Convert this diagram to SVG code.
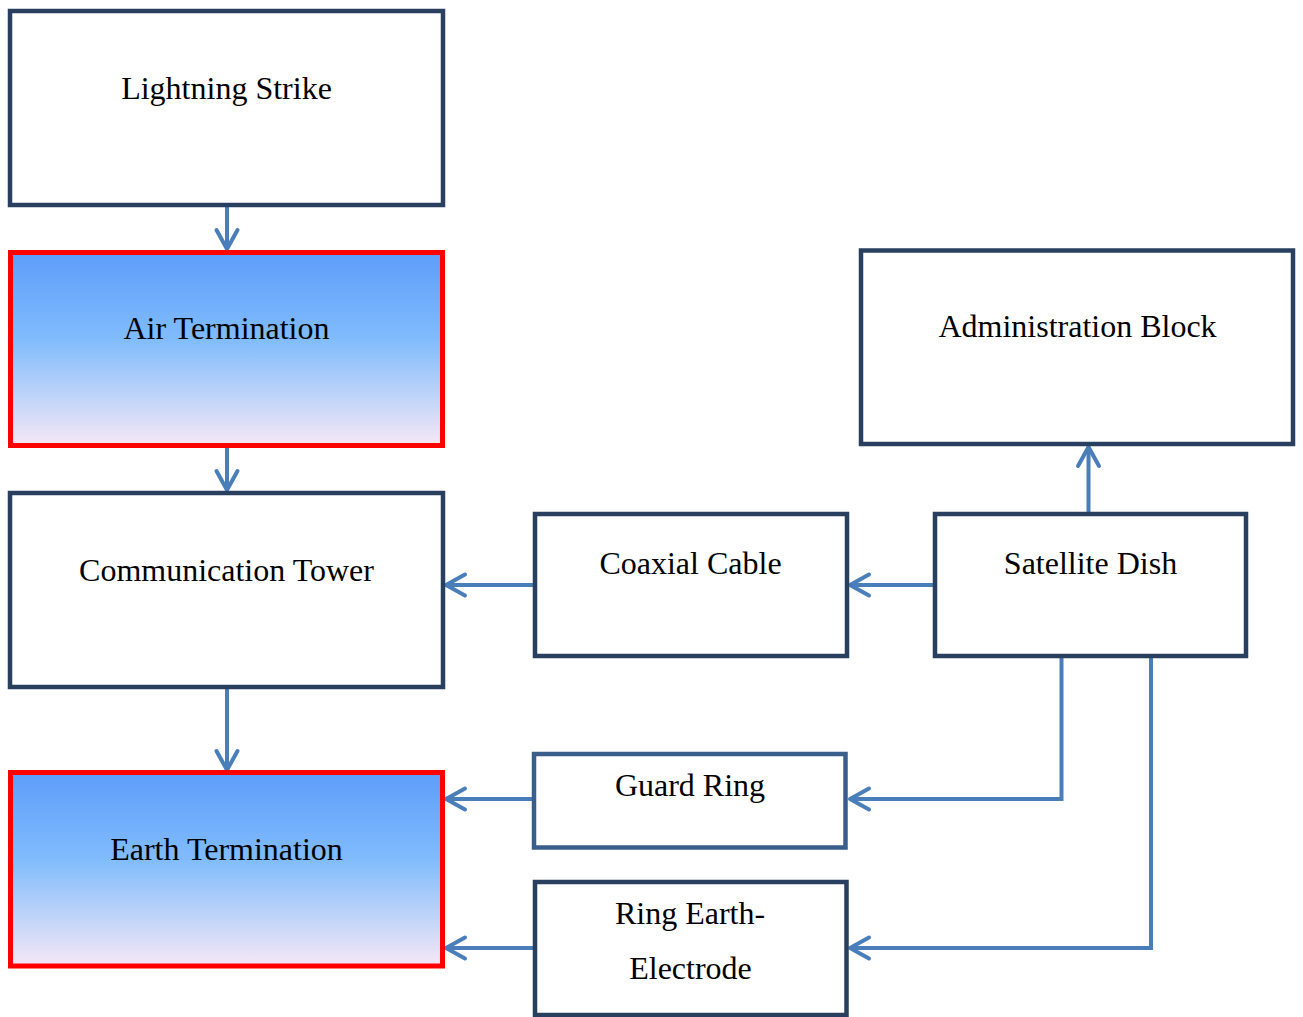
<svg xmlns="http://www.w3.org/2000/svg" width="1303" height="1017" viewBox="0 0 1303 1017">
<style>
.box{fill:#ffffff;stroke:#283f60;stroke-width:4.5}
.hot{fill:url(#grad);stroke:#ff0000;stroke-width:5}
.lbl{font-family:"Liberation Serif","Times New Roman",serif;font-size:32px;fill:#000000;text-anchor:middle}
.con{fill:none;stroke:#4a7ebb;stroke-width:4}
</style>
<defs>
<linearGradient id="grad" x1="0" y1="0" x2="0" y2="1">
<stop offset="0" stop-color="#5e9dfb"/>
<stop offset="0.45" stop-color="#80bcfc"/>
<stop offset="1" stop-color="#f6e8f6"/>
</linearGradient>
<marker id="ah" markerUnits="userSpaceOnUse" markerWidth="30" markerHeight="30" refX="0" refY="0" orient="auto" overflow="visible">
<path d="M-19,-10.5 L0,0 L-19,10.5" fill="none" stroke="#4a7ebb" stroke-width="4" stroke-linecap="round" stroke-linejoin="round"/>
</marker>
</defs>
<rect width="1303" height="1017" fill="#ffffff"/>
<g id="connectors">
<path class="con" d="M227,207 L227,249" marker-end="url(#ah)"/>
<path class="con" d="M227,448 L227,490" marker-end="url(#ah)"/>
<path class="con" d="M227,682 L227,770" marker-end="url(#ah)"/>
<path class="con" d="M535,585 L446,585" marker-end="url(#ah)"/>
<path class="con" d="M935,585 L850,585" marker-end="url(#ah)"/>
<path class="con" d="M1088.5,516 L1088.5,447" marker-end="url(#ah)"/>
<path class="con" d="M1061.5,656 L1061.5,799 L850,799" marker-end="url(#ah)"/>
<path class="con" d="M1151,656 L1151,948 L850,948" marker-end="url(#ah)"/>
<path class="con" d="M534,799 L446,799" marker-end="url(#ah)"/>
<path class="con" d="M535,948 L446,948" marker-end="url(#ah)"/>
</g>
<g id="lightning-strike">
<rect class="box" x="10" y="11" width="433" height="194"/>
<text class="lbl" x="226.5" y="99">Lightning Strike</text>
</g>
<g id="air-termination">
<rect class="hot" x="10.5" y="252.5" width="432" height="193"/>
<text class="lbl" x="226.5" y="339">Air Termination</text>
</g>
<g id="communication-tower">
<rect class="box" x="10" y="493" width="433" height="194"/>
<text class="lbl" x="226.5" y="581">Communication Tower</text>
</g>
<g id="earth-termination">
<rect class="hot" x="10.5" y="772.5" width="432" height="193.5"/>
<text class="lbl" x="226.5" y="860">Earth Termination</text>
</g>
<g id="coaxial-cable">
<rect class="box" x="535" y="514" width="312" height="142"/>
<text class="lbl" x="690.5" y="574">Coaxial Cable</text>
</g>
<g id="satellite-dish">
<rect class="box" x="935" y="514" width="311" height="142"/>
<text class="lbl" x="1090.5" y="574">Satellite Dish</text>
</g>
<g id="administration-block">
<rect class="box" x="861" y="250.5" width="432" height="193.5"/>
<text class="lbl" x="1077.5" y="337">Administration Block</text>
</g>
<g id="guard-ring">
<rect class="box" x="534" y="754" width="311.5" height="93.5" style="stroke:#3a5e8c"/>
<text class="lbl" x="690" y="796">Guard Ring</text>
</g>
<g id="ring-earth-electrode">
<rect class="box" x="535" y="882" width="311.5" height="133"/>
<text class="lbl" x="690" y="924">Ring Earth-</text>
<text class="lbl" x="690.5" y="979">Electrode</text>
</g>
</svg>
